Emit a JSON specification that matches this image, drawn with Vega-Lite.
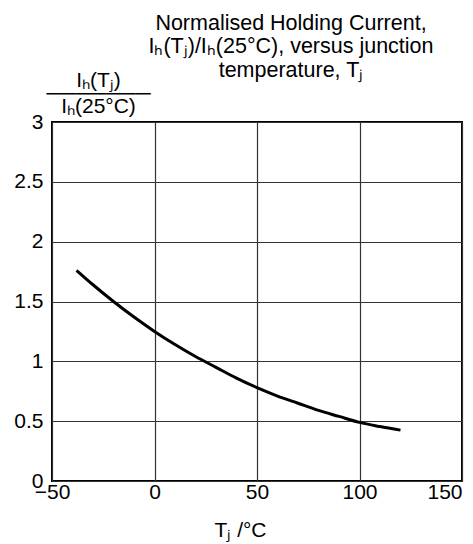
{
  "$schema": "https://vega.github.io/schema/vega-lite/v6.json",
  "autosize": "none",
  "width": 410,
  "height": 359,
  "padding": {"left": 52, "top": 122, "right": 11, "bottom": 63},
  "background": "white",
  "config": {
    "font": "Liberation Sans",
    "view": {"stroke": "black", "strokeWidth": 2}
  },
  "title": {
    "text": ["Normalised Holding Current,", "Iₕ(Tⱼ)/Iₕ(25°C), versus junction", "temperature, Tⱼ"],
    "anchor": "middle",
    "dx": 34,
    "dy": 72,
    "fontSize": 21.5,
    "fontWeight": "normal",
    "lineHeight": 23.5,
    "baseline": "bottom",
    "offset": 38,
    "color": "black"
  },
  "data": {
    "values": [
      {"T": -38, "I": 1.76},
      {"T": -30, "I": 1.64},
      {"T": -20, "I": 1.5},
      {"T": -10, "I": 1.37},
      {"T": 0, "I": 1.25},
      {"T": 10, "I": 1.14},
      {"T": 20, "I": 1.04},
      {"T": 30, "I": 0.95},
      {"T": 40, "I": 0.86},
      {"T": 50, "I": 0.78},
      {"T": 60, "I": 0.71},
      {"T": 70, "I": 0.65},
      {"T": 80, "I": 0.59},
      {"T": 90, "I": 0.54},
      {"T": 100, "I": 0.49},
      {"T": 110, "I": 0.455},
      {"T": 120, "I": 0.425}
    ]
  },
  "mark": {"type": "line", "color": "black", "strokeWidth": 3, "interpolate": "monotone"},
  "encoding": {
    "x": {
      "field": "T",
      "type": "quantitative",
      "scale": {"domain": [-50, 150], "nice": false},
      "axis": {
        "values": [-50, 0, 50, 100, 150],
        "title": "Tⱼ /°C",
        "titleFontSize": 21,
        "titleFontWeight": "normal",
        "titleColor": "black",
        "titleX": 188,
        "titlePadding": 17,
        "labelFontSize": 21,
        "labelColor": "black",
        "labelPadding": 0,
        "labelAlign": {"expr": "datum.value == 150 ? 'right' : 'center'"},
        "ticks": false,
        "domain": false,
        "grid": true,
        "gridColor": "#333333",
        "gridWidth": 1.2,
        "gridOpacity": 1
      }
    },
    "y": {
      "field": "I",
      "type": "quantitative",
      "scale": {"domain": [0, 3], "nice": false},
      "axis": {
        "values": [0, 0.5, 1, 1.5, 2, 2.5, 3],
        "format": "~g",
        "title": ["Iₕ(Tⱼ)", "───────", "Iₕ(25°C)"],
        "titleAngle": 0,
        "titleAlign": "center",
        "titleBaseline": "alphabetic",
        "titleX": 46,
        "titleY": -36,
        "titleLineHeight": 13,
        "titleFontSize": 21,
        "titleFontWeight": "normal",
        "titleColor": "black",
        "labelFontSize": 21,
        "labelColor": "black",
        "labelPadding": 9,
        "ticks": false,
        "domain": false,
        "grid": true,
        "gridColor": "#333333",
        "gridWidth": 1.2,
        "gridOpacity": 1
      }
    }
  }
}
